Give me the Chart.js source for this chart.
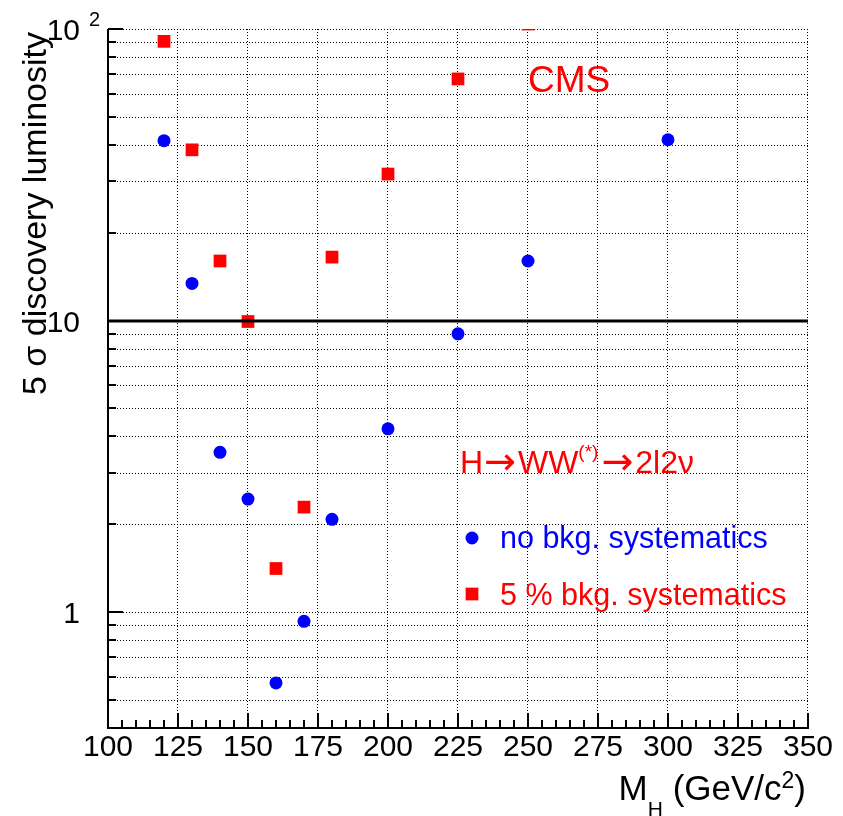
<!DOCTYPE html>
<html>
<head>
<meta charset="utf-8">
<title>5 sigma discovery luminosity</title>
<script src="https://cdn.jsdelivr.net/npm/chart.js@4.4.1/dist/chart.umd.min.js"></script>
<style>
  html, body { margin: 0; padding: 0; background: #fff; }
  canvas { display: block; }
</style>
</head>
<body>
<canvas id="lumi-chart" width="843" height="816"></canvas>
<script>
const higgsMass = [120, 130, 140, 150, 160, 170, 180, 200, 225, 250, 300];
const lumiNoSyst = [41.4, 13.4, 3.53, 2.44, 0.571, 0.929, 2.08, 4.25, 9.0, 16.0, 41.7];
const lumiFiveSyst = [90.7, 38.5, 16.0, 9.92, 1.41, 2.29, 16.5, 31.8, 67.4, 104, null];
const seriesLabels = ["no bkg. systematics", "5 % bkg. systematics"];
const massTicks = [100, 125, 150, 175, 200, 225, 250, 275, 300, 325, 350];
const lumiLabels = ["1", "10", "10"];
const lumiLabelValues = [1, 10, 100];

const FONT = "'Liberation Sans', Arial, Helvetica, sans-serif";
const ARROW_FONT = "'DejaVu Sans', sans-serif";
const BLUE = "#0000ff";
const RED = "#ff0000";

const toPoints = (values) =>
  higgsMass
    .map((m, i) => ({ x: m, y: values[i] }))
    .filter((p) => p.y !== null);

// minor y grid: 2..9 in every decade, 0.5..0.9 below 1
const lumiGrid = [];
[0.1, 1, 10].forEach((dec) => {
  for (let k = 1; k <= 10; k++) {
    const v = +(k * dec).toPrecision(3);
    if (v > 0.41 && v <= 100 && !lumiGrid.includes(v)) lumiGrid.push(v);
  }
});

function line(ctx, x1, y1, x2, y2) {
  ctx.beginPath();
  ctx.moveTo(x1, y1);
  ctx.lineTo(x2, y2);
  ctx.stroke();
}

function runFont(r) {
  return `${r.size}px ${r.family || FONT}`;
}

function runsWidth(ctx, runs) {
  let w = 0;
  runs.forEach((r) => {
    ctx.font = runFont(r);
    w += ctx.measureText(r.text).width + (r.gap || 0);
  });
  return w;
}

function drawRuns(ctx, runs, x, y, color) {
  ctx.fillStyle = color;
  ctx.textAlign = "left";
  ctx.textBaseline = "alphabetic";
  runs.forEach((r) => {
    ctx.font = runFont(r);
    ctx.fillText(r.text, x, y + (r.dy || 0));
    x += ctx.measureText(r.text).width + (r.gap || 0);
  });
}

const rootFrame = {
  id: "rootFrame",
  beforeDatasetsDraw(chart) {
    const { ctx, chartArea: a, scales: { x, y } } = chart;
    ctx.save();

    // dotted grid
    ctx.strokeStyle = "#000";
    ctx.lineWidth = 1;
    ctx.setLineDash([1, 2]);
    massTicks.slice(1).forEach((m) => {
      const px = Math.round(x.getPixelForValue(m)) - 0.5;
      line(ctx, px, a.top, px, a.bottom);
    });
    lumiGrid.forEach((v) => {
      const py = Math.round(y.getPixelForValue(v)) + 0.5;
      line(ctx, a.left, py, a.right, py);
    });
    ctx.setLineDash([]);

    // inward ticks
    ctx.strokeStyle = "#000";
    ctx.lineWidth = 2;
    for (let m = massTicks[0]; m <= massTicks[massTicks.length - 1]; m += 5) {
      const px = Math.round(x.getPixelForValue(m));
      const len = massTicks.includes(m) ? 15 : 8;
      line(ctx, px, a.bottom, px, a.bottom - len);
    }
    lumiGrid.forEach((v) => {
      const py = Math.round(y.getPixelForValue(v));
      const len = lumiLabelValues.includes(v) ? 15 : 8;
      line(ctx, a.left, py, a.left + len, py);
    });

    // solid left / bottom frame
    line(ctx, a.left, a.top, a.left, a.bottom + 1);
    line(ctx, a.left - 1, a.bottom, a.right + 1, a.bottom);
    ctx.restore();
  },
  afterDatasetsDraw(chart) {
    const { ctx, chartArea: a, scales: { y } } = chart;
    ctx.save();
    ctx.strokeStyle = "#000";
    ctx.lineWidth = 3;
    const py = Math.round(y.getPixelForValue(10));
    line(ctx, a.left, py, a.right, py);
    ctx.restore();
  },
  afterDraw(chart) {
    const { ctx, chartArea: a, scales: { x, y } } = chart;
    ctx.save();
    ctx.fillStyle = "#000";

    // x tick labels
    ctx.font = `30px ${FONT}`;
    ctx.textAlign = "center";
    ctx.textBaseline = "alphabetic";
    massTicks.forEach((m) => {
      ctx.fillText(String(m), x.getPixelForValue(m), a.bottom + 28);
    });

    // y tick labels, 10^2 on top
    ctx.textAlign = "right";
    lumiLabelValues.forEach((v, i) => {
      ctx.font = `30px ${FONT}`;
      ctx.fillText(lumiLabels[i], a.left - 28, y.getPixelForValue(v) + 11);
    });
    ctx.font = `20px ${FONT}`;
    ctx.textAlign = "left";
    ctx.fillText("2", a.left - 19, y.getPixelForValue(100) - 3);

    // y title
    ctx.save();
    ctx.translate(46, a.top + 3);
    ctx.rotate(-Math.PI / 2);
    ctx.font = `34px ${FONT}`;
    ctx.textAlign = "right";
    ctx.fillText("5 σ discovery luminosity", 0, 0);
    ctx.restore();

    // x title
    const xTitle = [
      { text: "M", size: 35 },
      { text: "H", size: 21, dy: 16 },
      { text: " (GeV/c", size: 35 },
      { text: "2", size: 23, dy: -12 },
      { text: ")", size: 35 },
    ];
    drawRuns(ctx, xTitle, 806 - runsWidth(ctx, xTitle), 800, "#000");

    // CMS + channel
    ctx.font = `37px ${FONT}`;
    ctx.fillStyle = RED;
    ctx.fillText("CMS", 528, 92);
    drawRuns(ctx, [
      { text: "H", size: 32, gap: 1 },
      { text: "→", size: 38, family: ARROW_FONT, dy: 1, gap: 2 },
      { text: "WW", size: 32 },
      { text: "(*)", size: 19, dy: -15, gap: 3 },
      { text: "→", size: 38, family: ARROW_FONT, dy: 1, gap: 2 },
      { text: "2l2ν", size: 32 },
    ], 460, 473, RED);

    // legend
    const ds = chart.data.datasets;
    ctx.fillStyle = BLUE;
    ctx.beginPath();
    ctx.arc(472, 538, ds[0].pointRadius, 0, Math.PI * 2);
    ctx.fill();
    ctx.fillStyle = RED;
    const half = ds[1].pointRadius * Math.SQRT1_2;
    ctx.fillRect(472 - half, 594 - half, 2 * half, 2 * half);
    ctx.font = `30.5px ${FONT}`;
    ctx.fillStyle = BLUE;
    ctx.fillText(ds[0].label, 500, 548);
    ctx.fillStyle = RED;
    ctx.fillText(ds[1].label, 500, 605);
    ctx.restore();
  },
};

const lumiChart = new Chart(document.getElementById("lumi-chart"), {
  type: "scatter",
  data: {
    datasets: [
      {
        label: seriesLabels[0],
        data: toPoints(lumiNoSyst),
        pointStyle: "circle",
        pointRadius: 6.5,
        backgroundColor: BLUE,
        borderWidth: 0,
        clip: 0,
      },
      {
        label: seriesLabels[1],
        data: toPoints(lumiFiveSyst),
        pointStyle: "rect",
        pointRadius: 9,
        backgroundColor: RED,
        borderWidth: 0,
        clip: 0,
      },
    ],
  },
  options: {
    responsive: false,
    animation: false,
    layout: { padding: { left: 108, right: 35, top: 29, bottom: 88 } },
    scales: {
      x: { type: "linear", display: false, min: 100, max: 350 },
      y: { type: "logarithmic", display: false, min: 0.4, max: 100 },
    },
    plugins: {
      legend: { display: false },
      tooltip: { enabled: false },
    },
  },
  plugins: [rootFrame],
});
</script>
</body>
</html>
